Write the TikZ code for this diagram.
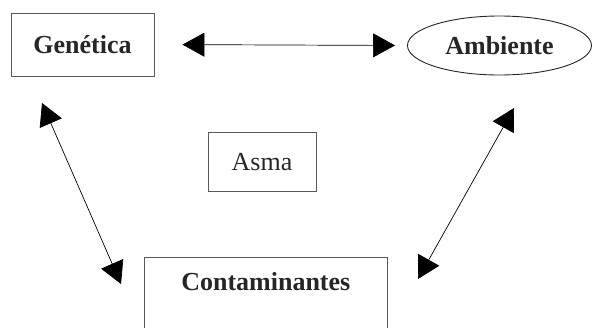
\documentclass[tikz,border=0pt]{standalone}
\usepackage{fontspec}
\setmainfont{Liberation Serif}
\usetikzlibrary{shapes.geometric,arrows.meta}

\tikzset{
  factor/.style={draw=black!65, line width=0.9pt, inner sep=0pt,
    font=\fontsize{26}{30}\selectfont\bfseries, text=black!85},
  link/.style={<->, >={Triangle[length=22pt,width=24pt]}, line width=0.7pt},
}

\begin{document}
\begin{tikzpicture}[x=1pt,y=-1pt]
  \clip (0,0) rectangle (592,327);
  % factors
  \node[factor, minimum width=143pt, minimum height=63pt] (gen) at (82.5,44.5) {Genética};
  \node[factor, ellipse, draw=black!85, minimum width=184pt, minimum height=59pt] (amb) at (499.5,45.5) {Ambiente};
  \node[factor, font=\fontsize{26}{30}\selectfont, minimum width=108pt, minimum height=59pt] (asma) at (262,162) {Asma};
  \node[factor, anchor=north, minimum width=243pt, text height=33pt, text depth=80pt] (cont) at (265.8,256.7) {Contaminantes};
  % free ends of the links
  \coordinate (gen-tip) at (42,103);
  \coordinate (cont-left) at (121,284);
  \coordinate (amb-tip) at (514,108);
  \coordinate (cont-right) at (418,279);
  \path[link]
  (gen.east) edge [shorten <=28pt, shorten >=12pt] (amb.west)
  (gen-tip) edge (cont-left)
  (amb-tip) edge (cont-right)
;
\end{tikzpicture}
\end{document}
